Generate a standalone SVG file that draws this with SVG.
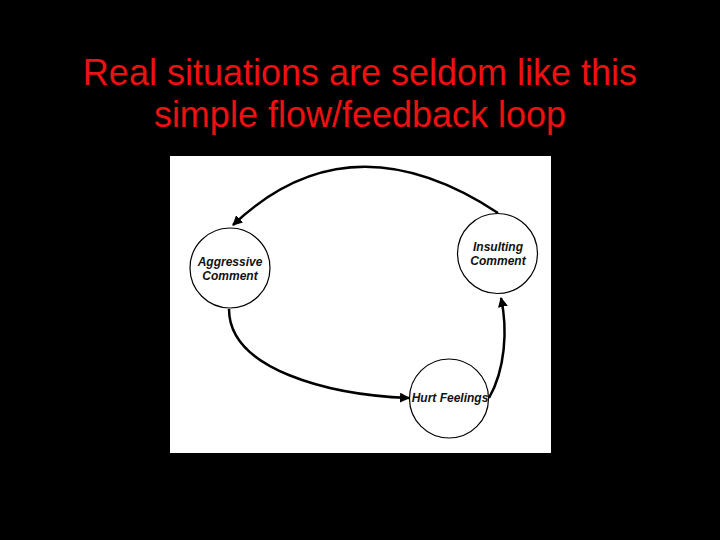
<svg xmlns="http://www.w3.org/2000/svg" width="720" height="540" viewBox="0 0 720 540">
  <style>
    .title { font-family: "Liberation Sans", Arial, sans-serif; font-size: 36px; fill: #ee1111; text-anchor: middle; }
    .node circle { fill: #ffffff; stroke: #000000; stroke-width: 1.2; }
    .node text { font-family: "Liberation Sans", Arial, sans-serif; font-size: 12px; font-weight: bold; font-style: italic; fill: #111111; text-anchor: middle; }
    .edge { fill: none; stroke: #000000; stroke-width: 2.5; marker-end: url(#arrow); }
  </style>
  <defs>
    <marker id="arrow" viewBox="0 0 10 10" refX="9" refY="5" markerWidth="4" markerHeight="4" orient="auto" markerUnits="strokeWidth">
      <path d="M0,0 L10,5 L0,10 z" fill="#000000"/>
    </marker>
  </defs>
  <rect x="0" y="0" width="720" height="540" fill="#000000"/>
  <text class="title" x="360" y="85">Real situations are seldom like this</text>
  <text class="title" x="360" y="127">simple flow/feedback loop</text>
  <rect x="170" y="156" width="381" height="297" fill="#ffffff"/>
  <g id="connectors">
    <path class="edge" d="M498,213 Q349,115 233,225"/>
    <path class="edge" d="M229,309 C229,370 330,395 409,398"/>
    <path class="edge" d="M489,398 C505,370 508,330 501,298"/>
  </g>
  <g id="node-aggressive" class="node">
    <circle cx="230" cy="268" r="40"/>
    <text x="230" y="266">Aggressive</text>
    <text x="230" y="280">Comment</text>
  </g>
  <g id="node-insulting" class="node">
    <circle cx="497.5" cy="253.5" r="40"/>
    <text x="498" y="251">Insulting</text>
    <text x="498" y="265">Comment</text>
  </g>
  <g id="node-hurt" class="node">
    <circle cx="449" cy="398.5" r="39.5"/>
    <text x="450" y="402">Hurt Feelings</text>
  </g>
</svg>
